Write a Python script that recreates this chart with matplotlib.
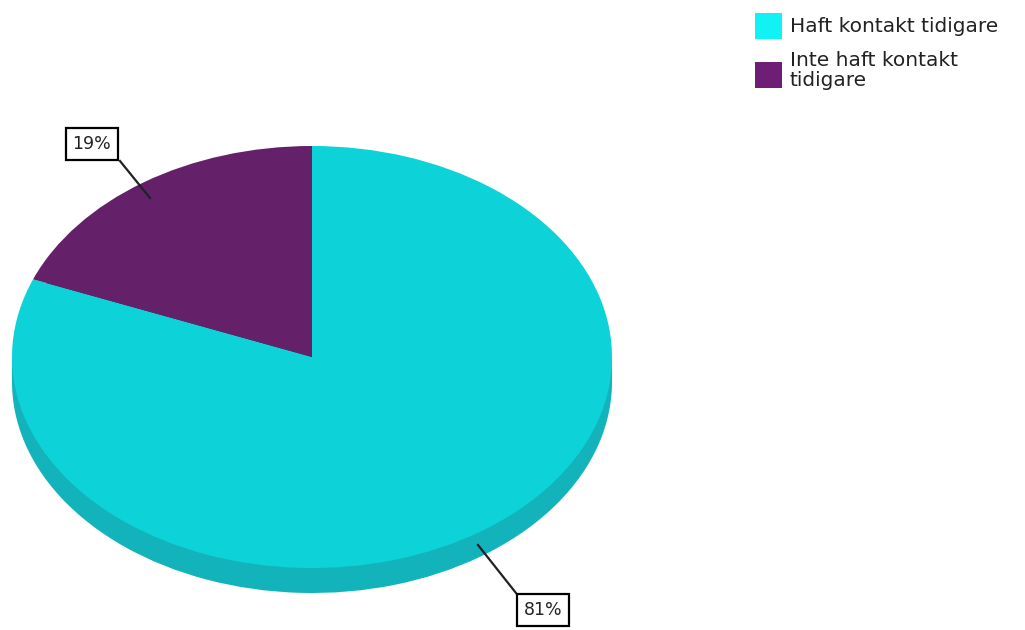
import matplotlib.pyplot as plt
from matplotlib.patches import Rectangle

labels = ["Haft kontakt tidigare", "Inte haft kontakt\ntidigare"]
shares = [81, 19]
top_colors = ["#0dd3d8", "#65206a"]
side_colors = ["#13b3bb", "#4e1752"]
legend_colors = ["#10f2f4", "#6e1e74"]


def main():
    fig = plt.figure(figsize=(10.25, 6.3), dpi=100)
    fig.patch.set_facecolor("white")

    # pie area in pixels: x 12..612, top face y 146..568, depth 25
    W, H = 1025, 630
    left, right = 12, 612
    top, face_bottom = 146, 568
    depth = 25
    ry_px = (face_bottom - top) / 2
    d = depth / ry_px

    ax = fig.add_axes([left / W, 1 - (face_bottom + depth) / H,
                       (right - left) / W, (face_bottom + depth - top) / H])

    # side of the disc: lower ellipse plus the band joining both faces
    ax.pie(shares, colors=side_colors, startangle=90, counterclock=False,
           radius=1, center=(0, -d), frame=True,
           wedgeprops=dict(linewidth=0))
    ax.add_patch(Rectangle((-1, -d), 2, d, color=side_colors[0], lw=0))
    ax.pie(shares, colors=top_colors, startangle=90,
           counterclock=False, radius=1, center=(0, 0), frame=True,
           wedgeprops=dict(linewidth=0))
    # squash the circle into an ellipse
    ax.set_aspect("auto")
    ax.set_xlim(-1, 1)
    ax.set_ylim(-1 - d, 1)
    ax.axis("off")

    # percentage labels with leader lines (figure pixels, y down)
    def px(x, y):
        return (x / W, 1 - y / H)

    box = dict(boxstyle="square,pad=0.4", fc="white", ec="black", lw=1.6)
    fig.text(*px(92, 144), f"{shares[1]}%", ha="center", va="center",
             fontsize=12.5, family="DejaVu Sans", color="#222222", bbox=box)
    fig.lines.append(plt.Line2D([120 / W, 150 / W], [1 - 161 / H, 1 - 198 / H],
                                transform=fig.transFigure, color="#222222", lw=1.6))
    fig.text(*px(543, 610), f"{shares[0]}%", ha="center", va="center",
             fontsize=12.5, family="DejaVu Sans", color="#222222", bbox=box)
    fig.lines.append(plt.Line2D([516 / W, 478 / W], [1 - 593 / H, 1 - 545 / H],
                                transform=fig.transFigure, color="#222222", lw=1.6))

    # legend
    for sy, col in zip([13, 62], legend_colors):
        fig.patches.append(Rectangle(px(755, sy + 26), 27 / W, 26 / H,
                                     transform=fig.transFigure, color=col, lw=0))
    fig.text(*px(790, 27), labels[0], ha="left", va="center",
             fontsize=14.5, family="DejaVu Sans", color="#222222")
    fig.text(*px(790, 51), labels[1], ha="left", va="top",
             fontsize=14.5, family="DejaVu Sans", color="#222222", linespacing=1.05)

    fig.savefig("out.png", dpi=100, facecolor="white")


if __name__ == "__main__":
    main()
